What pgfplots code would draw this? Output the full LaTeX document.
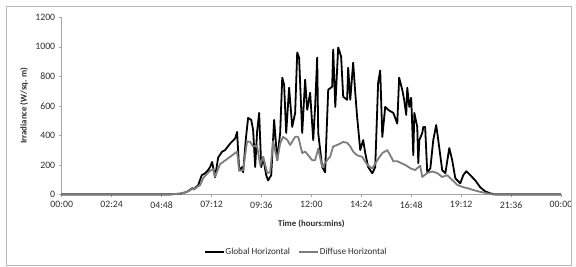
\documentclass[border=0pt]{standalone}
\usepackage{pgfplots}
\pgfplotsset{compat=1.18}
\usepackage{fontspec}
\setmainfont{Carlito}
\definecolor{axgray}{RGB}{165,165,165}
\definecolor{txt}{RGB}{45,45,45}
\definecolor{diff}{RGB}{125,125,125}
\begin{document}
\begin{tikzpicture}
\begin{axis}[
  scale only axis, width=499pt, height=177pt,
  xmin=0, xmax=24, ymin=0, ymax=1200,
  axis x line*=bottom, axis y line*=left,
  axis line style={axgray, line width=0.6pt},
  tick align=outside, major tick length=3pt,
  tick style={axgray, line width=0.6pt},
  xtick={0,2.4,4.8,7.2,9.6,12,14.4,16.8,19.2,21.6,24},
  xticklabels={00:00,02:24,04:48,07:12,09:36,12:00,14:24,16:48,19:12,21:36,00:00},
  ytick={0,200,400,600,800,1000,1200},
  yticklabels={0,200,400,600,800,1000,1200},
  ticklabel style={font=\fontsize{9.8}{11}\selectfont, text=txt},
  xticklabel style={yshift=-0.5pt},
  every axis y label/.style={at={(axis description cs:-0.0756,0.5)}, rotate=90, anchor=center},
  every axis x label/.style={at={(axis description cs:0.5,-0.167)}, anchor=center},
  ylabel={Irradiance (W/sq. m)},
  xlabel={Time (hours:mins)},
  label style={font=\bfseries\fontsize{8.8}{10}\selectfont, text=txt},
  legend columns=2,
  legend style={at={(axis description cs:0.4685,-0.325)}, anchor=center, draw=none,
    font=\fontsize{9.2}{10}\selectfont, text=txt,
    /tikz/every even column/.append style={column sep=7pt},
    nodes={inner sep=1pt}},
  legend image code/.code={\draw[#1] (0pt,0pt) -- (19pt,0pt);},
  clip=false,
]
\addplot[black, line width=1.8pt, line join=round] coordinates {
(0,0) (5.21,0) (5.69,5) (5.98,15) (6.17,30) (6.27,42) (6.36,35) (6.46,50) (6.56,62)
(6.73,130) (6.89,143) (7.04,165) (7.13,185) (7.23,220) (7.37,116) (7.52,250) (7.71,290)
(7.85,300) (8.10,345) (8.34,380) (8.43,423) (8.53,164) (8.67,185) (8.72,150) (8.86,390)
(8.96,518) (9.11,505) (9.20,436) (9.30,185) (9.39,423) (9.49,552) (9.59,185) (9.68,252)
(9.83,130) (9.92,95) (10.07,130) (10.21,505) (10.36,232) (10.50,416) (10.60,791) (10.69,743)
(10.79,416) (10.93,723) (11.08,457) (11.22,552) (11.32,962) (11.41,927) (11.56,416) (11.70,777)
(11.80,573) (11.94,689) (12.09,368) (12.18,593) (12.28,927) (12.33,416) (12.52,185) (12.66,150)
(12.81,709) (13.00,730) (13.05,982) (13.15,593) (13.29,996) (13.43,934) (13.53,662) (13.72,641)
(13.77,859) (13.87,641) (14.01,893) (14.11,689) (14.20,525) (14.35,300) (14.49,368) (14.59,280)
(14.73,185) (14.93,143) (15.07,185) (15.21,757) (15.31,840) (15.41,389) (15.55,593) (15.69,573)
(15.94,552) (16.13,480) (16.22,791) (16.37,709) (16.46,641) (16.56,539) (16.61,723) (16.71,593)
(16.80,655) (16.90,266) (16.95,552) (17.09,457) (17.14,211) (17.19,368) (17.33,416) (17.38,457)
(17.47,457) (17.57,150) (17.72,177) (17.86,368) (18.00,470) (18.10,368) (18.29,164) (18.44,143)
(18.63,314) (18.77,232) (18.92,109) (19.16,75) (19.30,130) (19.45,157) (19.64,130) (19.88,95)
(20.12,48) (20.36,20) (20.60,7) (20.84,0) (24,0)
};
\addlegendentry{Global Horizontal}
\addplot[diff, line width=1.8pt, line join=round] coordinates {
(0,0) (5.21,0) (5.69,5) (5.98,15) (6.17,28) (6.27,38) (6.36,33) (6.46,45) (6.56,55)
(6.65,62) (6.80,110) (6.99,140) (7.13,160) (7.28,170) (7.37,120) (7.61,205) (8.10,255)
(8.43,290) (8.53,160) (8.72,165) (8.91,360) (9.06,355) (9.20,325) (9.39,330) (9.54,200)
(9.68,255) (9.88,145) (10.02,150) (10.16,360) (10.36,230) (10.50,345) (10.64,390) (10.84,370)
(10.98,335) (11.22,390) (11.37,390) (11.56,280) (11.70,290) (11.85,265) (12.04,232) (12.18,232)
(12.33,310) (12.52,185) (12.76,232) (12.90,255) (13.05,325) (13.24,335) (13.39,345) (13.53,355)
(13.72,350) (13.87,325) (14.01,290) (14.20,265) (14.44,255) (14.69,200) (14.93,175) (15.17,232)
(15.41,280) (15.65,300) (15.79,265) (15.94,225) (16.13,225) (16.27,215) (16.51,200) (16.79,175)
(16.99,165) (17.23,195) (17.33,118) (17.57,145) (17.81,155) (18.05,145) (18.29,118) (18.53,130)
(18.77,98) (19.01,65) (19.27,50) (19.49,43) (19.78,30) (20.12,17) (20.46,7) (20.69,0) (24,0)
};
\addlegendentry{Diffuse Horizontal}
\draw[axgray!80, line width=0.6pt] ([shift={(-55.7pt,-71pt)}]rel axis cs:0,0) rectangle ([shift={(10.5pt,11.3pt)}]rel axis cs:1,1);
\path ([shift={(-61.7pt,-72.5pt)}]rel axis cs:0,0) rectangle ([shift={(15pt,17.3pt)}]rel axis cs:1,1);
\end{axis}
\end{tikzpicture}
\end{document}
